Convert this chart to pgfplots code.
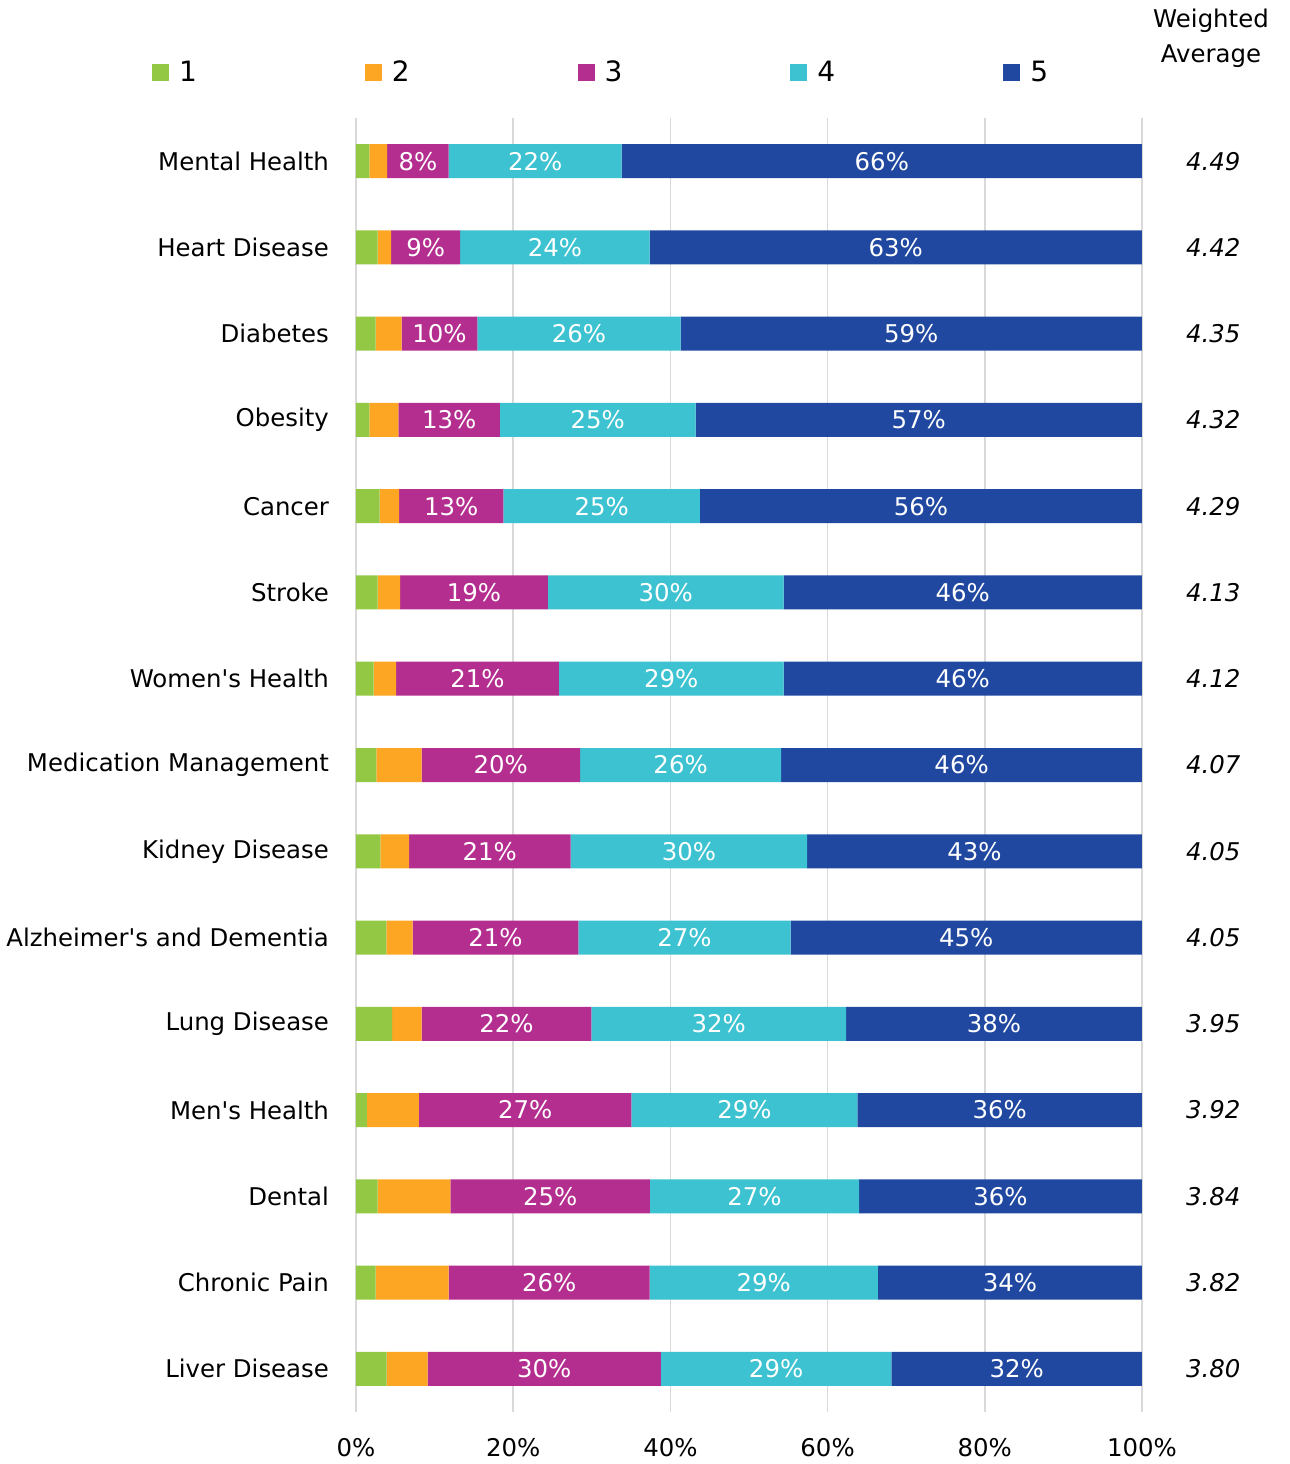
\documentclass[border=0pt]{standalone}
\usepackage{fontspec}
\setmainfont{DejaVu Sans}
\usepackage{pgfplots}
\usepackage{pgfplotstable}
\pgfplotsset{compat=1.18}

\definecolor{c1}{RGB}{146,200,68}
\definecolor{c2}{RGB}{252,166,35}
\definecolor{c3}{RGB}{180,46,144}
\definecolor{c4}{RGB}{60,194,208}
\definecolor{c5}{RGB}{32,72,160}
\definecolor{gridgray}{RGB}{217,217,217}

% shares of answers 1..5 per topic, top to bottom
\pgfplotstableread{
y a b c d e
0 1.70 2.25 7.85 22.0 66.2
1 2.76 1.70 8.80 24.1 62.64
2 2.50 3.30 9.65 25.85 58.7
3 1.70 3.70 12.9 24.9 56.8
4 3.00 2.50 13.25 25.0 56.25
5 2.75 2.85 18.8 30.0 45.6
6 2.25 2.85 20.7 28.6 45.6
7 2.60 5.75 20.15 25.6 45.9
8 3.10 3.65 20.55 30.1 42.6
9 3.85 3.35 21.1 27.0 44.7
10 4.60 3.75 21.6 32.4 37.65
11 1.40 6.60 27.05 28.75 36.2
12 2.75 9.25 25.4 26.6 36.0
13 2.50 9.30 25.55 29.05 33.6
14 3.90 5.20 29.7 29.3 31.9
}\data

\newcommand{\lblfont}{\fontsize{12.2}{14}\selectfont}

\begin{document}
\begin{tikzpicture}
\path[use as bounding box] (-178pt,-26pt) rectangle (467pt,706pt);
\begin{axis}[
  at={(0pt,0pt)}, anchor=south west,
  scale only axis, width=393pt, height=647pt,
  xbar stacked, bar width=17pt,
  xmin=0, xmax=100, ymin=-0.5, ymax=14.5,
  y dir=reverse,
  axis lines=left, axis line style={draw=none},
  xmajorgrids, major grid style={gridgray, line width=0.8pt},
  xtick={0,20,40,60,80,100},
  xticklabels={0\%,20\%,40\%,60\%,80\%,100\%},
  ytick={0,...,14},
  yticklabels={Mental Health,Heart Disease,Diabetes,Obesity,Cancer,Stroke,Women\textquotesingle s Health,Medication Management,Kidney Disease,Alzheimer\textquotesingle s and Dementia,Lung Disease,Men\textquotesingle s Health,Dental,Chronic Pain,Liver Disease},
  major tick length=0pt,
  tick label style={font=\lblfont},
  xticklabel style={yshift=-9.5pt},
  yticklabel style={xshift=-10pt},
  legend columns=5,
  legend style={at={(axis description cs:-0.2595,1.0348)}, anchor=west,
    draw=none, fill=none, inner sep=0pt, outer sep=0pt,
    font=\fontsize{14}{16}\selectfont,
    nodes={inner sep=0pt},
    /tikz/every odd column/.append style={column sep=5pt},
    /tikz/every even column/.append style={column sep=84pt}},
  legend image code/.code={\fill[#1] (0pt,-4.25pt) rectangle (8.5pt,4.25pt);},
  lbl/.style={
    visualization depends on=rawx \as \myx,
    nodes near coords={\pgfmathprintnumber[fixed,precision=0,assume math mode=true]{\myx}\%},
    every node near coord/.append style={anchor=center, text=white, font=\lblfont}},
]
\addplot[fill=c1, draw=none] table[x=a, y=y] {\data};
\addplot[fill=c2, draw=none] table[x=b, y=y] {\data};
\addplot[fill=c3, draw=none, lbl] table[x=c, y=y] {\data};
\addplot[fill=c4, draw=none, lbl] table[x=d, y=y] {\data};
\addplot[fill=c5, draw=none, lbl] table[x=e, y=y] {\data};
\legend{1,2,3,4,5}
\end{axis}
\begin{axis}[
  at={(0pt,0pt)}, anchor=south west,
  scale only axis, width=393pt, height=647pt,
  xmin=0, xmax=100, ymin=-0.5, ymax=14.5,
  y dir=reverse,
  hide x axis,
  axis y line*=right, y axis line style={draw=none},
  ytick={0,...,14},
  yticklabels={4.49,4.42,4.35,4.32,4.29,4.13,4.12,4.07,4.05,4.05,3.95,3.92,3.84,3.82,3.80},
  major tick length=0pt,
  yticklabel style={font=\lblfont\itshape, xshift=18.5pt},
]
\end{axis}
\node[align=center, font=\fontsize{12.2}{17.5}\selectfont] at (427.5pt,687pt) {Weighted\\Average};
\end{tikzpicture}
\end{document}
